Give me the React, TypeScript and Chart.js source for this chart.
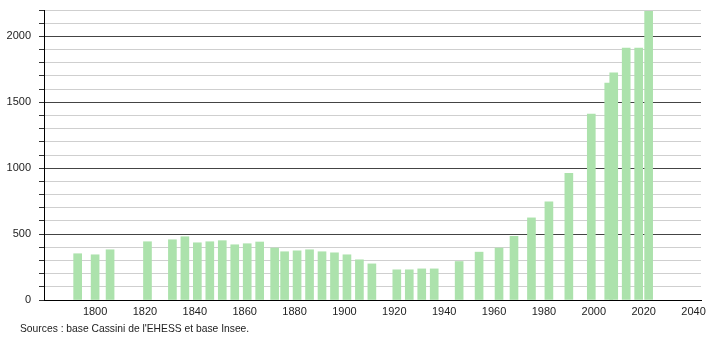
import React, { useEffect, useRef } from 'react';
import { Chart, registerables } from 'chart.js';

Chart.register(...registerables);

const years = [1793, 1800, 1806, 1821, 1831, 1836, 1841, 1846, 1851, 1856, 1861, 1866, 1872, 1876, 1881, 1886, 1891, 1896, 1901, 1906, 1911, 1921, 1926, 1931, 1936, 1946, 1954, 1962, 1968, 1975, 1982, 1990, 1999, 2006, 2008, 2013, 2018, 2022];
const population = [351, 343, 381, 442, 457, 480, 434, 442, 450, 419, 427, 440, 394, 366, 373, 381, 366, 358, 343, 305, 274, 229, 229, 236, 236, 292, 363, 394, 483, 623, 745, 960, 1410, 1646, 1723, 1911, 1911, 2190];
const xTickStep = 20;
const firstXLabel = 1800;
const yMinorStep = 100;
const yMajorStep = 500;
const sourceText = "Sources : base Cassini de l'EHESS et base Insee.";

export default function App() {
  const ref = useRef<HTMLCanvasElement>(null);

  useEffect(() => {
    Chart.defaults.font.family = '"Liberation Sans", Arial, sans-serif';
    const chart = new Chart(ref.current as HTMLCanvasElement, {
      type: 'bar',
      data: {
        datasets: [
          {
            data: years.map((yr, i) => ({ x: yr, y: population[i] })),
            backgroundColor: 'rgb(172, 226, 172)',
            borderWidth: 0,
            barThickness: 8,
          },
        ],
      },
      options: {
        responsive: false,
        animation: false,
        layout: { padding: { left: 0, right: 9, top: 10, bottom: 0 } },
        plugins: { legend: { display: false }, tooltip: { enabled: false } },
        scales: {
          x: {
            type: 'linear',
            offset: false,
            min: 1779.5,
            max: 2043,
            grid: { display: false, drawTicks: false, offset: false },
            border: { color: '#000', width: 1 },
            ticks: {
              stepSize: xTickStep,
              includeBounds: false,
              autoSkip: false,
              maxRotation: 0,
              padding: 5,
              color: '#222',
              font: { size: 11 },
              callback: (v: any) => (Number(v) % xTickStep === 0 && Number(v) >= firstXLabel ? String(v) : ''),
            },
            afterFit: (s: any) => {
              s.height = 40;
              s.paddingLeft = 0;
              s.paddingRight = 0;
            },
          },
          y: {
            min: 0,
            max: 2200,
            ticks: {
              stepSize: yMinorStep,
              autoSkip: false,
              padding: 8,
              color: '#222',
              font: { size: 11 },
              callback: (v: any) => (Number(v) % yMajorStep === 0 ? String(v) : ''),
            },
            grid: {
              color: (ctx: any) => (ctx.tick && ctx.tick.value % yMajorStep === 0 ? '#444' : '#cfcfcf'),
              tickColor: '#333',
              tickLength: 5,
              lineWidth: 1,
            },
            border: { color: '#000', width: 1 },
            afterFit: (s: any) => {
              s.width = 44;
              s.paddingTop = 0;
              s.paddingBottom = 0;
            },
          },
        },
      },
    } as any);
    return () => chart.destroy();
  }, []);

  return (
    <div style={{ position: 'fixed', left: 0, top: 0, width: 710, height: 340, background: '#fff' }}>
      <canvas ref={ref} width={710} height={340} style={{ display: 'block' }} />
      <div
        style={{
          position: 'absolute',
          left: 20,
          top: 323,
          fontFamily: '"Liberation Sans", Arial, sans-serif',
          fontSize: 10.3,
          color: '#222',
          whiteSpace: 'nowrap',
        }}
      >
        {sourceText}
      </div>
    </div>
  );
}
